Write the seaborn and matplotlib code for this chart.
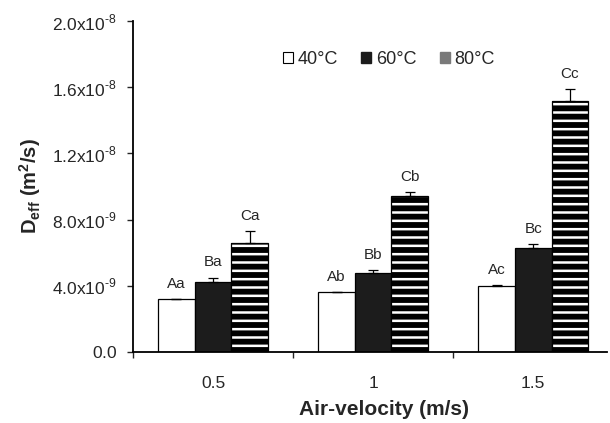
import numpy as np
import pandas as pd
import matplotlib
matplotlib.use('Agg')
import matplotlib.pyplot as plt
from matplotlib.patches import Patch
from matplotlib.ticker import FuncFormatter, FixedLocator
import seaborn as sns

# data
velocities = ['0.5', '1', '1.5']
temps = ['40°C', '60°C', '80°C']
deff_40 = [3.2e-9, 3.6e-9, 4.0e-9]
deff_60 = [4.2e-9, 4.8e-9, 6.3e-9]
deff_80 = [6.6e-9, 9.4e-9, 1.52e-8]
err_40 = [0.0, 0.0, 0.05e-9]
err_60 = [0.3e-9, 0.15e-9, 0.2e-9]
err_80 = [0.7e-9, 0.25e-9, 0.7e-9]
letters_40 = ['Aa', 'Ab', 'Ac']
letters_60 = ['Ba', 'Bb', 'Bc']
letters_80 = ['Ca', 'Cb', 'Cc']

df = pd.DataFrame({
    'velocity': velocities * 3,
    'temp': [t for t in temps for _ in velocities],
    'deff': deff_40 + deff_60 + deff_80,
})

sns.set_style('ticks')
plt.rcParams['font.family'] = ['Liberation Sans', 'DejaVu Sans']
plt.rcParams['mathtext.fontset'] = 'custom'
plt.rcParams['mathtext.rm'] = 'Liberation Sans'
plt.rcParams['mathtext.bf'] = 'Liberation Sans:bold'
plt.rcParams['hatch.linewidth'] = 1.8

fig = plt.figure(figsize=(6.1, 4.23), dpi=100)
ax = fig.add_axes([0.218, 0.168, 0.777, 0.782])

sns.barplot(data=df, x='velocity', y='deff', hue='temp', order=velocities,
            hue_order=temps, palette=['white', '#1c1c1c', 'black'],
            width=0.685, errorbar=None, edgecolor='black', linewidth=0.9,
            legend=False, ax=ax)

# striped 80°C bars: black with white horizontal lines
for bar in ax.containers[2]:
    bar.set_hatch('--')
    bar.set_edgecolor('white')
    bar.set_linewidth(0)
    ax.bar(bar.get_x() + bar.get_width() / 2, bar.get_height(), width=bar.get_width(),
           fill=False, edgecolor='black', linewidth=0.9)

errs = [err_40, err_60, err_80]
letters = [letters_40, letters_60, letters_80]
for cont, err, labs in zip(ax.containers[:3], errs, letters):
    xs = [b.get_x() + b.get_width() / 2 for b in cont]
    hs = [b.get_height() for b in cont]
    ax.errorbar(xs, hs, yerr=[np.zeros(len(err)), err], fmt='none',
                ecolor='black', elinewidth=0.9, capsize=3.5, capthick=0.9)
    for x, h, e, lab in zip(xs, hs, err, labs):
        ax.text(x, h + e + 0.5e-9, lab, ha='center', va='bottom', fontsize=11)

ax.set_ylim(0, 2.0e-8)
ax.set_xlim(-0.5, 2.46)
ax.set_yticks(np.arange(0, 2.01e-8, 4e-9))

HYPHEN = '\u2010'


def fmt(v, pos):
    if v == 0:
        # zero label sits further left in the original
        return '$\\mathregular{0.0}\\quad$'
    exp = int(np.floor(np.log10(abs(v))))
    return '%.1fx10$^{\\mathregular{%s%d}}$' % (v / 10 ** exp, HYPHEN, -exp)


ax.yaxis.set_major_formatter(FuncFormatter(fmt))
ax.tick_params(axis='y', labelsize=12.5, direction='out', length=4, width=1, pad=7.5)
ax.tick_params(axis='x', which='major', length=0, labelsize=12.5, pad=17)
ax.xaxis.set_minor_locator(FixedLocator([-0.5, 0.5, 1.5]))
ax.tick_params(axis='x', which='minor', direction='out', length=4, width=1)

for s in ['top', 'right']:
    ax.spines[s].set_visible(False)
for s in ['left', 'bottom']:
    ax.spines[s].set_linewidth(1.3)
    ax.spines[s].set_color('black')

ax.set_xlabel('Air-velocity (m/s)', fontsize=15, fontweight='bold', labelpad=7, x=0.53)
ax.set_ylabel(r'D$_{\mathbf{eff}}$ (m$^{\mathbf{2}}$/s)', fontsize=14.5, fontweight='bold', labelpad=7)

handles = [Patch(facecolor='white', edgecolor='black', linewidth=0.8),
           Patch(facecolor='#1c1c1c', edgecolor='#1c1c1c'),
           Patch(facecolor='#7a7a7a', edgecolor='#7a7a7a')]
ax.legend(handles, temps, ncol=3, frameon=False, fontsize=13,
          loc='upper center', bbox_to_anchor=(0.54, 0.96),
          handlelength=0.55, handleheight=0.55, handletextpad=0.25,
          columnspacing=1.3)

fig.savefig('out.png', dpi=100)
